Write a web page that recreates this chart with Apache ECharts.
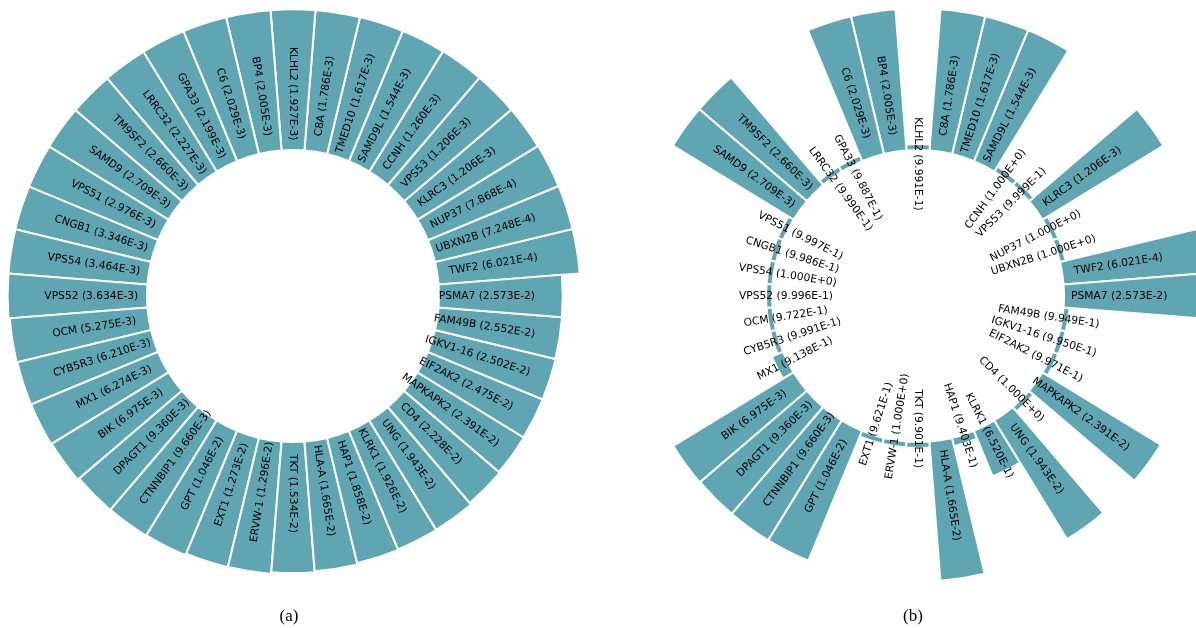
<!DOCTYPE html>
<html>
<head>
<meta charset="utf-8">
<script src="https://cdn.jsdelivr.net/npm/echarts@6/dist/echarts.min.js"></script>
<style>
  html, body { margin: 0; padding: 0; background: #fff; }
  #chart { width: 1196px; height: 628px; }
</style>
</head>
<body>
<div id="chart"></div>
<script>
// genes, counter-clockwise starting just above 3 o'clock
const genes = ['TWF2', 'UBXN2B', 'NUP37', 'KLRC3', 'VPS53', 'CCNH', 'SAMD9L', 'TMED10', 'C8A', 'KLHL2',
  'BP4', 'C6', 'GPA33', 'LRRC32', 'TM9SF2', 'SAMD9', 'VPS51', 'CNGB1', 'VPS54', 'VPS52',
  'OCM', 'CYB5R3', 'MX1', 'BIK', 'DPAGT1', 'CTNNBIP1', 'GPT', 'EXT1', 'ERVW-1', 'TKT',
  'HLA-A', 'HAP1', 'KLRK1', 'UNG', 'CD4', 'MAPKAPK2', 'EIF2AK2', 'IGKV1-16', 'FAM49B', 'PSMA7']

// values printed in panel (a)
const valuesA = [6.021e-4, 7.248e-4, 7.868e-4, 1.206e-3, 1.206e-3, 1.260e-3, 1.544e-3, 1.617e-3, 1.786e-3, 1.927e-3,
  2.005e-3, 2.029e-3, 2.199e-3, 2.227e-3, 2.660e-3, 2.709e-3, 2.976e-3, 3.346e-3, 3.464e-3, 3.634e-3,
  5.275e-3, 6.210e-3, 6.274e-3, 6.975e-3, 9.360e-3, 9.660e-3, 1.046e-2, 1.273e-2, 1.296e-2, 1.534e-2,
  1.665e-2, 1.858e-2, 1.926e-2, 1.943e-2, 2.228e-2, 2.391e-2, 2.475e-2, 2.502e-2, 2.552e-2, 2.573e-2]

// values printed in panel (b)
const valuesB = [6.021e-4, 1.000e+0, 1.000e+0, 1.206e-3, 9.999e-1, 1.000e+0, 1.544e-3, 1.617e-3, 1.786e-3, 9.991e-1,
  2.005e-3, 2.029e-3, 9.887e-1, 9.990e-1, 2.660e-3, 2.709e-3, 9.997e-1, 9.986e-1, 1.000e+0, 9.996e-1,
  9.722e-1, 9.991e-1, 9.138e-1, 6.975e-3, 9.360e-3, 9.660e-3, 1.046e-2, 9.621e-1, 1.000e+0, 9.901e-1,
  1.665e-2, 9.403e-1, 6.520e-1, 1.943e-2, 1.000e+0, 2.391e-2, 9.971e-1, 9.950e-1, 9.949e-1, 2.573e-2]

const panelTitles = ['(a)', '(b)']

// radial axis start for each panel (a is zoomed in on 0.8..1)
const radiusStart = [0.8, 0]

const BAR_COLOR = '#60a5b2'

const fmt = (v) => v.toExponential(3).replace('e', 'E')

const chart = echarts.init(document.getElementById('chart'), null, { renderer: 'canvas' })

const barSeries = (polarIndex, values) => ({
  type: 'bar',
  coordinateSystem: 'polar',
  polarIndex: polarIndex,
  data: values.map(v => 1 - v),
  barCategoryGap: '0%',
  barMinHeight: 6,
  itemStyle: { color: BAR_COLOR, borderColor: '#fff', borderWidth: 2 },
  silent: true,
  animation: false
})

const labelSeries = (polarIndex, values, start) => ({
  type: 'custom',
  coordinateSystem: 'polar',
  polarIndex: polarIndex,
  silent: true,
  z: 5,
  animation: false,
  data: values.map((v, i) => [1 - v, i]),
  renderItem: (params, api) => {
    const i = api.value(1)
    const cs = params.coordSys
    const pt = api.coord([(start + api.value(0)) / 2, i])
    const dx = pt[0] - cs.cx
    const dy = pt[1] - cs.cy
    const d = Math.hypot(dx, dy)
    const rr = d - 14
    let deg = Math.atan2(-dy, dx) * 180 / Math.PI
    deg = (deg + 360) % 360
    let rot = deg
    if (deg > 89.9 && deg < 269.9) rot = deg - 180
    return {
      type: 'text',
      x: cs.cx + dx / d * rr,
      y: cs.cy + dy / d * rr,
      rotation: rot * Math.PI / 180,
      style: {
        text: genes[i] + ' (' + fmt(values[i]) + ')',
        align: 'center',
        verticalAlign: 'middle',
        fill: '#000',
        fontSize: 10.7,
        fontFamily: 'DejaVu Sans'
      }
    }
  }
})

const hidden = { axisLine: { show: false }, axisTick: { show: false }, axisLabel: { show: false }, splitLine: { show: false } }

chart.setOption({
  backgroundColor: '#fff',
  animation: false,
  polar: [
    { center: [293, 296], radius: [146, 288] },
    { center: [918, 296], radius: [146, 288] }
  ],
  angleAxis: [0, 1].map(k => ({
    polarIndex: k, type: 'category', data: genes, startAngle: 4.5, clockwise: false, ...hidden
  })),
  radiusAxis: [0, 1].map(k => ({
    polarIndex: k, type: 'value', min: radiusStart[k], max: 1, startValue: radiusStart[k], ...hidden
  })),
  graphic: panelTitles.map((t, k) => ({
    type: 'text',
    x: k === 0 ? 289 : 913,
    y: 617,
    style: { text: t, align: 'center', verticalAlign: 'middle', fill: '#000', fontSize: 17, fontFamily: 'Liberation Serif' }
  })),
  series: [
    barSeries(0, valuesA),
    barSeries(1, valuesB),
    labelSeries(0, valuesA, radiusStart[0]),
    labelSeries(1, valuesB, radiusStart[1])
  ]
})
</script>
</body>
</html>
